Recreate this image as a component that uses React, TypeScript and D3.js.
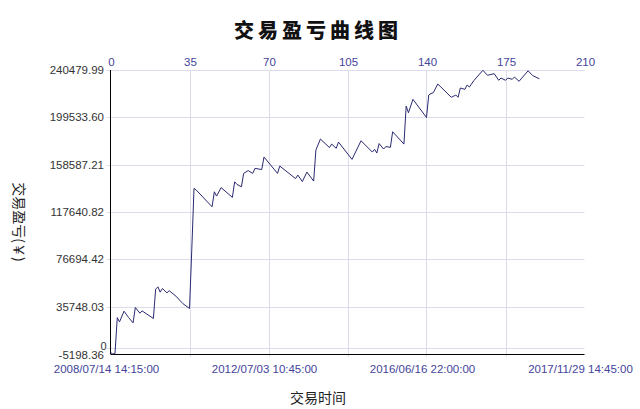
import React from "react";
import * as d3 from "d3";

const tradeIndex = [0,1,2,3,4,6,8,10,11,13,14,19,20,21,22,23,25,26,29,32,35,36,37,38,45,46,47,49,54,55,56,58,59,61,63,64,67,68,74,75,82,83,85,87,90,91,93,97,98,100,101,107,111,116,117,118,119,121,122,124,125,130,131,132,134,140,141,142,143,145,151,153,154,155,157,158,159,161,165,167,170,172,173,175,176,178,179,181,185,187,190];
const profit = [-3800,-5198,-4773,26219,22583,31846,26392,21718,35049,30115,32106,25527,50892,52883,48295,51498,47689,49593,44832,38512,34184,84654,138068,136596,122139,135124,131402,138760,130276,143781,141530,139453,151053,153477,151053,155382,154343,165164,151053,157373,146552,149581,143954,152179,144387,171224,180747,173388,176418,172696,178150,163173,179275,169493,171830,168627,176851,172090,174254,173561,187066,176418,209315,203515,215115,199359,218837,220136,220829,228360,216846,218837,216846,224897,223772,227494,225763,231390,240220,235892,237277,231563,233554,231563,233554,232429,234420,230698,239787,235719,232862];

const yTickLabels = ["-5198.36","35748.03","76694.42","117640.82","158587.21","199533.60","240479.99"];
const topTicks = [0,35,70,105,140,175,210];
const dateTickPos = [0,70,140,210];
const dateTickLabels = ["2008/07/14 14:15:00","2012/07/03 10:45:00","2016/06/16 22:00:00","2017/11/29 14:45:00"];

const title = "交易盈亏曲线图";
const yTitle = "交易盈亏(￥)";
const xTitle = "交易时间";

export default function App() {
  const W = 640, H = 409;
  const left = 110.5, right = 584.5, top = 70, bottom = 354;
  const yVals = yTickLabels.map(Number);
  const x = d3.scaleLinear().domain([0, 210]).range([left, right]);
  const y = d3.scaleLinear().domain([yVals[0], yVals[yVals.length - 1]]).range([bottom, top]);
  const data = tradeIndex.map((t, i) => [t, profit[i]] as [number, number]);
  const line = d3.line<[number, number]>().x(d => x(d[0])).y(d => y(d[1]));
  const font = "'Liberation Sans', Arial, sans-serif";
  const grid = "#dcdcea";
  const blue = "#44449a";

  return (
    <svg width={W} height={H} style={{ position: "absolute", left: 0, top: 0, background: "#fff" }}>
      <text x={318} y={38} textAnchor="middle" fontFamily="'Noto Sans CJK SC', sans-serif" fontWeight={900} fontSize={20} letterSpacing={4} fill="#111">{title}</text>
      {[...yVals.slice(1), 0].map((v, i) => (
        <line key={"h" + i} x1={left - 4} x2={right} y1={Math.round(y(v)) + 0.5} y2={Math.round(y(v)) + 0.5} stroke={grid} strokeWidth={1} />
      ))}
      {topTicks.slice(1, -1).map((t, i) => (
        <line key={"v" + i} x1={Math.round(x(t)) + 0.5} x2={Math.round(x(t)) + 0.5} y1={top} y2={bottom + 3} stroke={grid} strokeWidth={1} />
      ))}
      <line x1={left} x2={left} y1={top} y2={bottom} stroke="#000" strokeWidth={1} />
      <line x1={left} x2={right} y1={bottom + 0.5} y2={bottom + 0.5} stroke="#000" strokeWidth={1} />
      {yVals.map((v, i) => (
        <text key={"yl" + i} x={104} y={y(v) + (i === 0 ? 5 : 4)} textAnchor="end" fontFamily={font} fontSize={11.5} fill="#333">{yTickLabels[i]}</text>
      ))}
      <text x={106.5} y={y(0) + 2} textAnchor="end" fontFamily={font} fontSize={11} fill="#333">0</text>
      {topTicks.map((t, i) => (
        <text key={"tt" + i} x={x(t) + 1} y={66} textAnchor="middle" fontFamily={font} fontSize={11.5} fill={blue}>{t}</text>
      ))}
      {dateTickPos.map((t, i) => (
        <text key={"bl" + i} x={x(t) - 4} y={373} textAnchor="middle" fontFamily={font} fontSize={11.5} fill={blue}>{dateTickLabels[i]}</text>
      ))}
      <text x={318} y={403} textAnchor="middle" fontFamily="'Noto Sans CJK SC', sans-serif" fontSize={14} fill="#222">{xTitle}</text>
      <text transform={`translate(14,222) rotate(90)`} textAnchor="middle" fontFamily="'Noto Sans CJK SC', sans-serif" fontSize={14} fill="#222">{yTitle}</text>
      <path d={line(data) || ""} fill="none" stroke="#2a2a72" strokeWidth={1} />
    </svg>
  );
}
